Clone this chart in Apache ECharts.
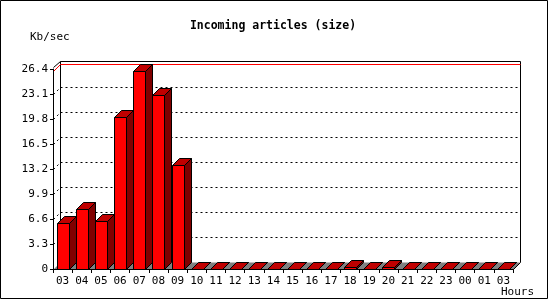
<!DOCTYPE html>
<html><head><meta charset="utf-8">
<script src="https://cdn.jsdelivr.net/npm/echarts@6/dist/echarts.min.js"></script>
<style>html,body{margin:0;padding:0;background:#fff}#c{width:550px;height:300px}</style>
</head><body><div id="c"></div>
<script>
const chartTitle = 'Incoming articles (size)';
const yAxisName = 'Kb/sec';
const xAxisName = 'Hours';
const hours = ['03','04','05','06','07','08','09','10','11','12','13','14','15','16','17','18','19','20','21','22','23','00','01','03'];
const kbPerSec = [6.1, 7.9, 6.4, 20.0, 26.1, 23.0, 13.7, 0.05, 0.05, 0.05, 0.05, 0.05, 0.05, 0.05, 0.05, 0.3, 0.05, 0.3, 0.05, 0.05, 0.05, 0.05, 0.05, 0.05];
const yTicks = [0, 3.3, 6.6, 9.9, 13.2, 16.5, 19.8, 23.1, 26.4];

const FONT = 'DejaVu Sans Mono';
const D = 7; // 3D depth in px (style)
const maxVal = Math.max.apply(null, kbPerSec);
const h = v => Math.round(v) + 0.5;

const chart = echarts.init(document.getElementById('c'), null, {renderer: 'canvas'});

function wallItem(params, api) {
  const cs = params.coordSys;
  const v = api.value(1);
  const p = api.coord([0, v]);
  const yf = h(p[1]);
  const xl = h(cs.x), xr = h(cs.x + cs.width);
  const children = [];
  if (v === yTicks[yTicks.length - 1]) {
    const yt = yf - D - 1;
    children.push({type: 'polyline', shape: {points: [[xl, yf - 2], [xl + D, yt], [xr + D, yt], [xr + D, h(cs.y + cs.height) - D]]}, style: {stroke: '#000', lineWidth: 1, fill: null}});
    children.push({type: 'line', shape: {x1: xl + D, y1: yt, x2: xl + D, y2: h(cs.y + cs.height) - D}, style: {stroke: '#000', lineWidth: 1}});
  } else if (v !== 0) {
    children.push({type: 'line', shape: {x1: xl + D, y1: yf - D, x2: xr + D, y2: yf - D}, style: {stroke: '#000', lineWidth: 1, lineDash: [2, 3]}});
    children.push({type: 'line', shape: {x1: xl, y1: yf, x2: xl + D, y2: yf - D}, style: {stroke: '#000', lineWidth: 1, lineDash: [2, 3]}});
  }
  return {type: 'group', children};
}

function maxLineItem(params, api) {
  const cs = params.coordSys;
  const p = api.coord([0, api.value(1)]);
  const yf = h(p[1]);
  const xl = h(cs.x), xr = h(cs.x + cs.width);
  return {type: 'polyline', shape: {points: [[xl, yf], [xl + D, yf - D], [xr + D, yf - D]]}, style: {stroke: '#ff0000', lineWidth: 1, fill: null}};
}

function floorItem(params, api) {
  const cs = params.coordSys;
  const yb = h(cs.y + cs.height);
  const xl = h(cs.x), xr = h(cs.x + cs.width);
  return {type: 'group', children: [
    {type: 'polygon', shape: {points: [[xl, yb], [xr, yb], [xr + D, yb - D], [xl + D, yb - D]]}, style: {fill: '#808080', stroke: null}},
    {type: 'line', shape: {x1: xr, y1: yb, x2: xr + D, y2: yb - D}, style: {stroke: '#000', lineWidth: 1}}
  ]};
}

function barItem(params, api) {
  const idx = api.value(0);
  const p0 = api.coord([idx, 0]);
  const p1 = api.coord([idx, api.value(1)]);
  const bw = 12;
  const x0 = h(p0[0] - bw / 2), x1 = x0 + bw;
  const yb = h(p0[1]);
  const yt = Math.min(h(p1[1]), yb);
  const st = {stroke: '#000', lineWidth: 1};
  return {type: 'group', children: [
    {type: 'polygon', shape: {points: [[x1, yb], [x1, yt], [x1 + D, yt - D], [x1 + D, yb - D]]}, style: Object.assign({fill: '#800000'}, st)},
    {type: 'polygon', shape: {points: [[x0, yt], [x1, yt], [x1 + D, yt - D], [x0 + D, yt - D]]}, style: Object.assign({fill: '#c00000'}, st)},
    {type: 'rect', shape: {x: x0, y: yt, width: bw, height: yb - yt}, style: Object.assign({fill: '#ff0000'}, st)}
  ]};
}

chart.setOption({
  animation: false,
  backgroundColor: '#fff',
  grid: {left: 53, right: 37, top: 69, height: 200},
  xAxis: {
    type: 'category', data: hours, boundaryGap: true, z: 10,
    axisLine: {lineStyle: {color: '#000', width: 1}},
    axisTick: {show: true, length: 4, lineStyle: {color: '#000'}},
    axisLabel: {color: '#000', fontFamily: FONT, fontSize: 11, margin: 7, interval: 0},
    splitLine: {show: false}
  },
  yAxis: {
    type: 'value', min: 0, max: 26.4, interval: 3.3, z: 10,
    axisLine: {show: true, lineStyle: {color: '#000', width: 1}},
    axisTick: {show: true, length: 3, lineStyle: {color: '#000'}},
    axisLabel: {color: '#000', fontFamily: FONT, fontSize: 11, margin: 5,
      formatter: v => v === 0 ? '0' : v.toFixed(1)},
    splitLine: {show: false}
  },
  graphic: [
    {type: 'rect', shape: {x: 0.5, y: 0.5, width: 547, height: 298}, style: {fill: null, stroke: '#000', lineWidth: 1}, z: 100},
    {type: 'text', x: 273, y: 26, style: {text: chartTitle, font: 'bold 11.5px "' + FONT + '"', fill: '#000', textAlign: 'center', textVerticalAlign: 'middle'}},
    {type: 'text', x: 30, y: 37, style: {text: yAxisName, font: '11px "' + FONT + '"', fill: '#000', textAlign: 'left', textVerticalAlign: 'middle'}},
    {type: 'text', x: 534, y: 292, style: {text: xAxisName, font: '11px "' + FONT + '"', fill: '#000', textAlign: 'right', textVerticalAlign: 'middle'}}
  ],
  series: [
    {type: 'custom', name: 'wall', z: 1, silent: true, renderItem: wallItem, data: yTicks.map(v => [0, v])},
    {type: 'custom', name: 'max', z: 2, silent: true, renderItem: maxLineItem, data: [[0, maxVal]]},
    {type: 'custom', name: 'floor', z: 3, silent: true, renderItem: floorItem, data: [[0, 0]]},
    {type: 'custom', name: 'Kb/sec', z: 4, renderItem: barItem, data: kbPerSec.map((v, i) => [i, v])}
  ]
});
</script></body></html>
